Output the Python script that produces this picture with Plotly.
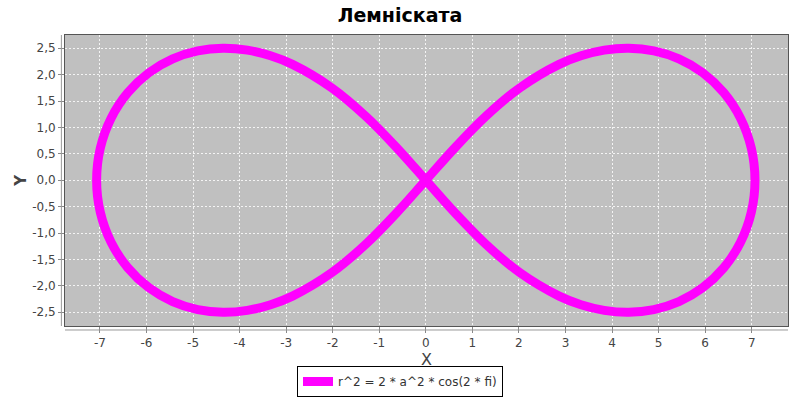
import plotly.graph_objects as go

# Lemniscate points (one closed figure-eight path)
x_vals = [7.071, 6.991, 6.760, 6.401, 5.949, 5.437, 4.899, 4.358, 3.833, 3.333, 2.864, 2.020, 1.284, 0.623, 0.0,
          -0.623, -1.284, -2.020, -2.864, -3.333, -3.833, -4.358, -4.899, -5.437, -5.949, -6.401, -6.760, -6.991, -7.071,
          -6.991, -6.760, -6.401, -5.949, -5.437, -4.899, -4.358, -3.833, -3.333, -2.864, -2.020, -1.284, -0.623, 0.0,
          0.623, 1.284, 2.020, 2.864, 3.333, 3.833, 4.358, 4.899, 5.437, 5.949, 6.401, 6.760, 6.991, 7.071]
y_vals = [0.0, 0.609, 1.174, 1.657, 2.035, 2.298, 2.449, 2.500, 2.464, 2.357, 2.194, 1.750, 1.207, 0.614, 0.0,
          -0.614, -1.207, -1.750, -2.194, -2.357, -2.464, -2.500, -2.449, -2.298, -2.035, -1.657, -1.174, -0.609, 0.0,
          0.609, 1.174, 1.657, 2.035, 2.298, 2.449, 2.500, 2.464, 2.357, 2.194, 1.750, 1.207, 0.614, 0.0,
          -0.614, -1.207, -1.750, -2.194, -2.357, -2.464, -2.500, -2.449, -2.298, -2.035, -1.657, -1.174, -0.609, 0.0]

x_ticks = [-7, -6, -5, -4, -3, -2, -1, 0, 1, 2, 3, 4, 5, 6, 7]
x_tick_labels = ["-7", "-6", "-5", "-4", "-3", "-2", "-1", "0", "1", "2", "3", "4", "5", "6", "7"]
y_ticks = [-2.5, -2.0, -1.5, -1.0, -0.5, 0.0, 0.5, 1.0, 1.5, 2.0, 2.5]
y_tick_labels = ["-2,5", "-2,0", "-1,5", "-1,0", "-0,5", "0,0", "0,5", "1,0", "1,5", "2,0", "2,5"]

series_name = "r^2 = 2 * a^2 * cos(2 * fi)"
title_text = "Лемніската"
x_title = "X"
y_title = "Y"

fig = go.Figure()
fig.add_trace(go.Scatter(
    x=x_vals, y=y_vals, mode="lines", name=series_name,
    line=dict(color="#FF00FF", width=9, shape="spline", smoothing=1.0),
    showlegend=True,
))

font_family = "DejaVu Sans, sans-serif"

fig.update_layout(
    width=800, height=400,
    paper_bgcolor="white", plot_bgcolor="#C0C0C0",
    margin=dict(l=65, r=12, t=35, b=74, autoexpand=False),
    title=dict(text="<b>" + title_text + "</b>", x=0.5, xanchor="center", xref="container",
               y=1 - 15 / 400, yanchor="middle", yref="container",
               font=dict(family=font_family, size=19, color="black")),
    showlegend=True,
    legend=dict(orientation="h", x=0.5, xanchor="center", xref="container",
                y=3 / 400, yanchor="bottom", yref="container",
                bordercolor="black", borderwidth=1, bgcolor="white",
                font=dict(family=font_family, size=12, color="#333333"),
                itemwidth=30, tracegroupgap=0),
    font=dict(family=font_family, size=12, color="#444444"),
)

fig.update_xaxes(
    range=[-7.75, 7.78], tickvals=x_ticks, ticktext=x_tick_labels,
    showgrid=True, gridcolor="#F4F4F4", griddash="2px,2px", gridwidth=1, zeroline=False,
    showline=True, linecolor="#555555", linewidth=1, mirror=True,
    ticks="outside", ticklen=6, tickcolor="#888888",
    tickfont=dict(family=font_family, size=12, color="#444444"),
)
fig.update_yaxes(
    range=[-2.76, 2.75], tickvals=y_ticks, ticktext=y_tick_labels,
    showgrid=True, gridcolor="#F4F4F4", griddash="2px,2px", gridwidth=1, zeroline=False,
    showline=True, linecolor="#555555", linewidth=1, mirror=True,
    ticks="outside", ticklen=6, tickcolor="#888888",
    tickfont=dict(family=font_family, size=12, color="#444444"),
)

# axis titles
fig.add_annotation(text=x_title, xref="paper", x=0.5, yref="paper", y=-0.115,
                   xanchor="center", yanchor="middle", showarrow=False,
                   font=dict(family=font_family, size=16, color="#444444"))
fig.add_annotation(text="<b>" + y_title + "</b>", xref="paper", x=-0.062, yref="paper", y=0.5,
                   xanchor="center", yanchor="middle", showarrow=False, textangle=-90,
                   font=dict(family=font_family, size=15, color="#444444"))

# offset axis lines (JFreeChart style)
fig.add_shape(type="line", xref="paper", yref="paper", x0=-0.005, x1=-0.005, y0=0, y1=1,
              line=dict(color="#999999", width=1))
fig.add_shape(type="line", xref="paper", yref="paper", x0=0, x1=1, y0=-0.0137, y1=-0.0137,
              line=dict(color="#999999", width=1))

fig.write_html("out.html", config={"displayModeBar": False},
               post_script="document.body.style.margin='0';document.body.style.padding='0';")
